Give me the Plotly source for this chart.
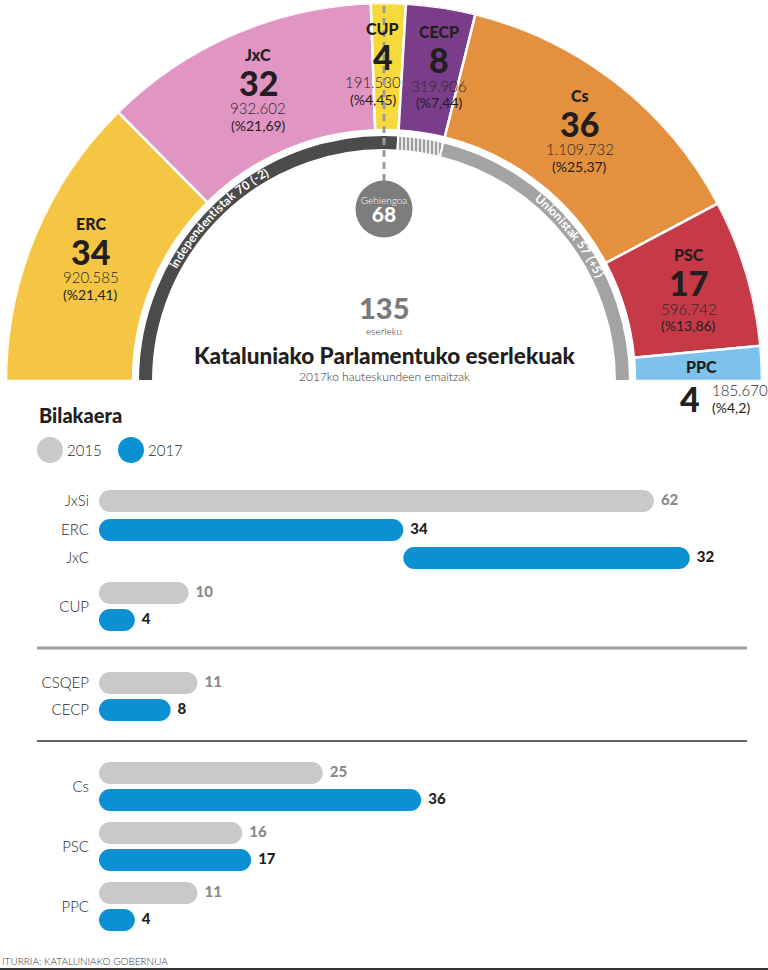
import math
import plotly.graph_objects as go

# ---------------- data ----------------
parties = ["ERC", "JxC", "CUP", "CECP", "Cs", "PSC", "PPC"]
seats = [34, 32, 4, 8, 36, 17, 4]
votes = ["920.585", "932.602", "191.530", "319.906", "1.109.732", "596.742", "185.670"]
vote_pct = ["21,41", "21,69", "4,45", "7,44", "25,37", "13,86", "4,2"]

bloc_labels = ["independentistak 70 (-2)", "", "Unionistak 57 (+5)"]
bloc_members = [["ERC", "JxC", "CUP"], ["CECP"], ["Cs", "PSC", "PPC"]]
majority = 68

parties_2015 = ["JxSi", "CUP", "CSQEP", "Cs", "PSC", "PPC"]
seats_2015 = [62, 10, 11, 25, 16, 11]
parties_2017 = ["ERC", "JxC", "CUP", "CECP", "Cs", "PSC", "PPC"]
seats_2017 = [34, 32, 4, 8, 36, 17, 4]

# ---------------- style / layout ----------------
W, H = 768, 970
CX, CY = 384, 381
R_OUT, R_IN = 378, 251
RING_IN, RING_OUT = 231, 246
party_colors = ["#F4C644", "#E195C2", "#F8D93C", "#7A3D8A", "#E3913F", "#C53A46", "#7CC2EC"]
ring_colors = ["#4B4B4B", "#E6E6E6", "#A3A3A3"]
ring_patterns = ["", "|", ""]
DARK = "#231F20"
FONT = "Lato"

GRAY_BAR = "#C9C9C9"
BLUE_BAR = "#0A90D3"
BAR_H = 22
X0_PX = 99
PX_PER_SEAT = 8.95
ROW_Y_2015 = [501, 593, 683, 773, 833, 893]
ROW_Y_2017 = [530, 558, 620, 710, 800, 860, 920]

total = sum(seats)
deg = 180.0 / total


def px(x):
    return x / W


def py(y):
    return 1 - y / H


fig = go.Figure()

# ---------------- hemicycle ----------------
theta_c, widths = [], []
cum = 0
for s in seats:
    theta_c.append((cum + s / 2) * deg)
    widths.append(s * deg)
    cum += s

fig.add_trace(go.Barpolar(
    theta=theta_c, width=widths, r=[R_OUT - R_IN] * len(seats), base=[R_IN] * len(seats),
    marker=dict(color=party_colors, line=dict(color="white", width=2.5)),
    subplot="polar", hoverinfo="skip", showlegend=False))

ring_theta, ring_width = [], []
cum = 0
for members in bloc_members:
    s = sum(seats[parties.index(m)] for m in members)
    ring_theta.append((cum + s / 2) * deg)
    ring_width.append(s * deg)
    cum += s

fig.add_trace(go.Barpolar(
    theta=ring_theta, width=ring_width, r=[RING_OUT - RING_IN] * 3, base=[RING_IN] * 3,
    marker=dict(color=ring_colors, line=dict(color="white", width=2),
                pattern=dict(shape=ring_patterns, fgcolor="#B3B3B3", bgcolor="#E6E6E6",
                             size=4, solidity=0.45)),
    subplot="polar", hoverinfo="skip", showlegend=False))

# majority dashed line and circle
mid_theta = (total / 2) * deg
fig.add_trace(go.Scatterpolar(
    theta=[mid_theta, mid_theta], r=[200, R_OUT], mode="lines",
    line=dict(color="#9A9A9A", width=3, dash="7px,5px"),
    subplot="polar", hoverinfo="skip", showlegend=False))
fig.add_trace(go.Scatterpolar(
    theta=[mid_theta], r=[172], mode="markers",
    marker=dict(size=57, color="#7D7D7D", line=dict(width=0)),
    subplot="polar", hoverinfo="skip", showlegend=False))
fig.add_trace(go.Scatterpolar(
    theta=[mid_theta], r=[180], mode="text", text=["Gehiengoa"],
    textfont=dict(family=FONT, size=10, color="white", weight=300),
    subplot="polar", hoverinfo="skip", showlegend=False))
fig.add_trace(go.Scatterpolar(
    theta=[mid_theta], r=[164], mode="text", text=[str(majority)],
    textfont=dict(family=FONT, size=21, color="white", weight=900),
    subplot="polar", hoverinfo="skip", showlegend=False))


def ann(text, x, y, size, color=DARK, weight=400, xanchor="center", angle=0):
    fig.add_annotation(text=text, x=px(x), y=py(y), xref="paper", yref="paper",
                       showarrow=False, xanchor=xanchor, yanchor="middle",
                       textangle=angle,
                       font=dict(family=FONT, size=size, color=color, weight=weight))


# party labels
LABEL_R = 318
tweaks = {"CUP": (-5, -10), "CECP": (7, 0)}
for p, s, v, pc, th in zip(parties, seats, votes, vote_pct, theta_c):
    a = math.radians(th)
    bx = CX - LABEL_R * math.cos(a)
    by = CY - LABEL_R * math.sin(a)
    dx, dxv = tweaks.get(p, (0, 0))
    if p == "PPC":
        ann(p, bx, by, 16, weight=900)
        ann(str(s), bx - 12, by + 32, 34, weight=900)
        ann(v, bx + 8, by + 24, 15, color="#2a2a2a", weight=300, xanchor="left")
        ann("(%" + pc + ")", bx + 8, by + 41, 14, xanchor="left")
        continue
    ann(p, bx + dx, by - 35, 16, weight=900)
    ann(str(s), bx + dx, by - 7, 34, weight=900)
    ann(v, bx + dx + dxv, by + 19, 15, color="#2a2a2a", weight=300)
    ann("(%" + pc + ")", bx + dx + dxv, by + 36, 14)

# arc texts on the ring
CHAR_EM = {'i': 0.25, 'l': 0.25, 't': 0.36, 'n': 0.56, 'd': 0.57, 'e': 0.53, 'p': 0.57,
           's': 0.44, 'a': 0.52, 'k': 0.52, 'o': 0.57, 'U': 0.68, ' ': 0.27, '(': 0.32,
           ')': 0.32, '-': 0.36, '+': 0.58}
ARC_SIZE = 12
ARC_R = 240
arc_shift = [-2, 0, 0]
for label, th, sh in zip(bloc_labels, ring_theta, arc_shift):
    if not label:
        continue
    ws = [CHAR_EM.get(c, 0.58) * ARC_SIZE * 1.04 for c in label]
    tot = sum(ws)
    start = th + sh - math.degrees(tot / 2 / ARC_R)
    acc = 0
    for c, w in zip(label, ws):
        al = start + math.degrees((acc + w / 2) / ARC_R)
        acc += w
        if c == " ":
            continue
        ar = math.radians(al)
        ann(c, CX - ARC_R * math.cos(ar), CY - ARC_R * math.sin(ar), ARC_SIZE,
            color="white", weight=700, angle=al - 90)

# center texts
ann(str(total), CX, 307, 29, color="#7A7A7A", weight=900)
ann("eserleku", CX, 331, 10, color="#333333", weight=300)
ann("Kataluniako Parlamentuko eserlekuak", CX, 355, 22.5, weight=900)
ann("2017ko hauteskundeen emaitzak", CX, 377, 12, color="#333333", weight=300)

# ---------------- bars ----------------
base_2017 = [0] * len(parties_2017)
base_2017[parties_2017.index("JxC")] = seats_2017[parties_2017.index("ERC")]
base_2015 = [0] * len(parties_2015)


def add_bars(vals, bases, ys, color, txtcolor):
    fig.add_trace(go.Bar(
        x=vals, base=bases, y=ys,
        orientation="h", width=BAR_H,
        marker=dict(color=color, cornerradius=BAR_H // 2, line=dict(width=0)),
        hoverinfo="skip", showlegend=False, xaxis="x", yaxis="y"))
    fig.add_trace(go.Scatter(
        x=[b + v + 7 / PX_PER_SEAT for b, v in zip(bases, vals)], y=ys, mode="text",
        text=[str(v) for v in vals], textposition="middle right",
        textfont=dict(family=FONT, size=15, color=txtcolor, weight=900),
        hoverinfo="skip", showlegend=False, cliponaxis=False))


add_bars(seats_2015, base_2015, ROW_Y_2015, GRAY_BAR, "#8A8A8A")
add_bars(seats_2017, base_2017, ROW_Y_2017, BLUE_BAR, DARK)

# category labels on the y axis
tick_vals, tick_text = [], []
for p, y in zip(parties_2015, ROW_Y_2015):
    if p in parties_2017:
        y = (y + ROW_Y_2017[parties_2017.index(p)]) / 2
    tick_vals.append(y)
    tick_text.append(p)
for p, y in zip(parties_2017, ROW_Y_2017):
    if p in parties_2015:
        continue
    tick_vals.append(y)
    tick_text.append(p)

# heading and legend
ann("Bilakaera", 37, 415, 20, weight=900, xanchor="left")
for cx_, col, lab in [(50, GRAY_BAR, "2015"), (131, BLUE_BAR, "2017")]:
    fig.add_shape(type="circle", xref="paper", yref="paper",
                  x0=px(cx_ - 13), x1=px(cx_ + 13), y0=py(463), y1=py(437),
                  fillcolor=col, line=dict(width=0))
    ann(lab, cx_ + 15, 450, 15, color="#2a2a2a", weight=300, xanchor="left")

# separators
fig.add_shape(type="line", xref="paper", yref="paper", x0=px(37), x1=px(747),
              y0=py(648), y1=py(648), line=dict(color="#9A9A9A", width=3))
fig.add_shape(type="line", xref="paper", yref="paper", x0=px(37), x1=px(747),
              y0=py(741), y1=py(741), line=dict(color="#333333", width=1.5))
fig.add_shape(type="line", xref="paper", yref="paper", x0=0, x1=1,
              y0=py(969), y1=py(969), line=dict(color="#333333", width=2))
ann("ITURRIA: KATALUNIAKO GOBERNUA", 0, 961, 10, color="#333333", weight=300,
    xanchor="left")

fig.update_layout(
    width=W, height=H, margin=dict(l=0, r=0, t=0, b=0, pad=0),
    paper_bgcolor="white", plot_bgcolor="white", hovermode=False,
    barmode="overlay", showlegend=False,
    polar=dict(
        domain=dict(x=[px(CX - R_OUT), px(CX + R_OUT)], y=[py(CY), py(CY - R_OUT)]),
        sector=[0, 180], hole=0, bgcolor="rgba(0,0,0,0)", barmode="overlay",
        radialaxis=dict(range=[0, R_OUT], visible=False, showgrid=False),
        angularaxis=dict(visible=False, rotation=180, direction="clockwise",
                         showgrid=False, showline=False),
    ),
    xaxis=dict(domain=[px(X0_PX), 1], range=[0, (W - X0_PX) / PX_PER_SEAT],
               visible=False, fixedrange=True),
    yaxis=dict(domain=[0, py(470)], range=[H, 470], tickvals=tick_vals,
               ticktext=tick_text, showgrid=False, zeroline=False, showline=False,
               ticks="", ticklabelstandoff=9,
               tickfont=dict(family=FONT, size=15, color="#2a2a2a", weight=300),
               fixedrange=True),
)

fig.write_html("out.html", config={"displayModeBar": False},
               post_script="document.body.style.margin='0';")
